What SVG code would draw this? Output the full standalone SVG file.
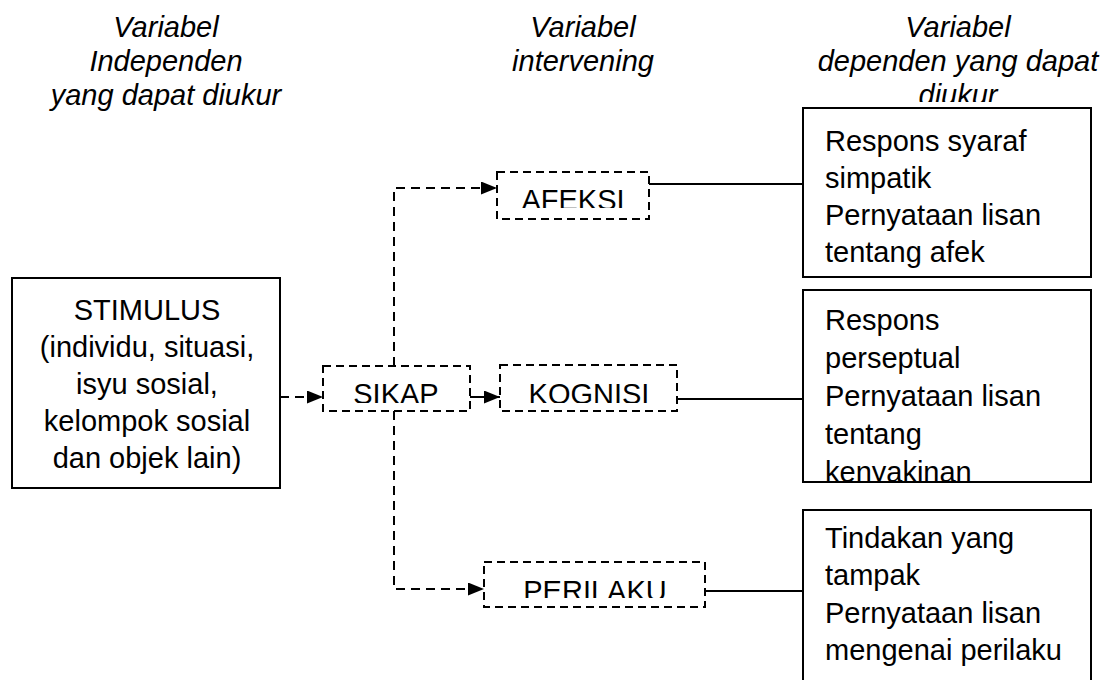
<svg xmlns="http://www.w3.org/2000/svg" width="1112" height="680" viewBox="0 0 1112 680">
<style>
.t{font-family:"Liberation Sans",Arial,sans-serif;font-size:29px;fill:#000}
.h{font-style:italic;text-anchor:middle}
.c{text-anchor:middle}
.box{fill:#fff;stroke:#000;stroke-width:2}
.dbox{fill:#fff;stroke:#000;stroke-width:2;stroke-dasharray:8 5}
.dl{fill:none;stroke:#000;stroke-width:2;stroke-dasharray:9 6}
.sl{fill:none;stroke:#000;stroke-width:2}
</style>
<defs>
<marker id="arr" markerUnits="userSpaceOnUse" markerWidth="17" markerHeight="13" refX="16" refY="6.5" orient="auto">
<path d="M0,0 L16,6.5 L0,13 z" fill="#000"/>
</marker>
<clipPath id="cHead"><rect x="780" y="0" width="332" height="102"/></clipPath>
<clipPath id="cAfeksi"><rect x="497" y="172" width="152" height="36"/></clipPath>
<clipPath id="cMid"><rect x="320" y="365" width="360" height="38"/></clipPath>
<clipPath id="cPer"><rect x="484" y="562" width="221" height="36"/></clipPath>
<clipPath id="cB"><rect x="803" y="290" width="288" height="191"/></clipPath>
</defs>

<g id="headers">
<text class="t h" x="166" y="37">Variabel</text>
<text class="t h" x="166" y="71">Independen</text>
<text class="t h" x="166" y="105">yang dapat diukur</text>
<text class="t h" x="583" y="37">Variabel</text>
<text class="t h" x="583" y="71">intervening</text>
<g clip-path="url(#cHead)">
<text class="t h" x="958" y="37">Variabel</text>
<text class="t h" x="958" y="71">dependen yang dapat</text>
<text class="t h" x="958" y="105">diukur</text>
</g>
</g>

<g id="connectors">
<path class="dl" d="M280,397 H323" marker-end="url(#arr)"/>
<path class="dl" d="M394,366 V188 H497" marker-end="url(#arr)"/>
<path class="sl" d="M470,397 H500" marker-end="url(#arr)"/>
<path class="dl" d="M394,411 V589 H484" marker-end="url(#arr)"/>
<path class="sl" d="M649,184 H803"/>
<path class="sl" d="M677,399 H803"/>
<path class="sl" d="M705,591 H803"/>
</g>

<g id="stimulus">
<rect class="box" x="12" y="278" width="268" height="210"/>
<text class="t c" x="147" y="320">STIMULUS</text>
<text class="t c" x="147" y="357">(individu, situasi,</text>
<text class="t c" x="147" y="394">isyu sosial,</text>
<text class="t c" x="147" y="431">kelompok sosial</text>
<text class="t c" x="147" y="468">dan objek lain)</text>
</g>

<g id="sikap">
<rect class="dbox" x="323" y="366" width="147" height="45"/>
<text class="t c" x="396" y="404" clip-path="url(#cMid)">SIKAP</text>
</g>

<g id="afeksi">
<rect class="dbox" x="497" y="172" width="152" height="47"/>
<text class="t c" x="573" y="210" clip-path="url(#cAfeksi)">AFEKSI</text>
</g>

<g id="kognisi">
<rect class="dbox" x="500" y="365" width="177" height="46"/>
<text class="t c" x="589" y="404" clip-path="url(#cMid)">KOGNISI</text>
</g>

<g id="perilaku">
<rect class="dbox" x="484" y="562" width="221" height="45"/>
<text class="t c" x="595" y="601" clip-path="url(#cPer)">PERILAKU</text>
</g>

<g id="dep-afeksi">
<rect class="box" x="803" y="108" width="288" height="169"/>
<text class="t" x="825" y="151">Respons syaraf</text>
<text class="t" x="825" y="188">simpatik</text>
<text class="t" x="825" y="225">Pernyataan lisan</text>
<text class="t" x="825" y="262">tentang afek</text>
</g>

<g id="dep-kognisi">
<rect class="box" x="803" y="290" width="288" height="192"/>
<g clip-path="url(#cB)">
<text class="t" x="825" y="330">Respons</text>
<text class="t" x="825" y="368">perseptual</text>
<text class="t" x="825" y="406">Pernyataan lisan</text>
<text class="t" x="825" y="444">tentang</text>
<text class="t" x="825" y="482">kenyakinan</text>
</g>
</g>

<g id="dep-perilaku">
<rect class="box" x="803" y="510" width="288" height="190"/>
<text class="t" x="825" y="548">Tindakan yang</text>
<text class="t" x="825" y="585">tampak</text>
<text class="t" x="825" y="623">Pernyataan lisan</text>
<text class="t" x="825" y="660">mengenai perilaku</text>
</g>
</svg>
